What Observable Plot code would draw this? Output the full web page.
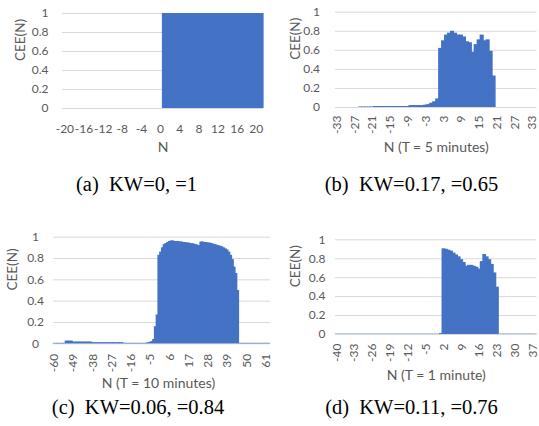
<!DOCTYPE html>
<html><head><meta charset="utf-8">
<script src="https://cdn.jsdelivr.net/npm/d3@7"></script>
<script src="https://cdn.jsdelivr.net/npm/@observablehq/plot@0.6"></script>
<style>
body{margin:0;background:#fff;}
#root{position:relative;width:539px;height:426px;overflow:hidden;background:#fff;}
.panel{position:absolute;}
.panel svg{display:block;}
.cap{position:absolute;font-family:"Liberation Serif","Times New Roman",serif;font-size:20.5px;color:#000;white-space:nowrap;transform:translate(-50%,-50%);line-height:1;}
</style></head><body><div id="root"></div>
<script>
// ---- data ----
const yTicks = [0, 0.2, 0.4, 0.6, 0.8, 1];

// (a) N from -20 to 21
const startA = -20;
const valuesA = [0,0,0,0,0,0,0,0,0,0,0,0,0,0,0,0,0,0,0,0,0,
                 1,1,1,1,1,1,1,1,1,1,1,1,1,1,1,1,1,1,1,1,1];
const ticksA = [-20,-16,-12,-8,-4,0,4,8,12,16,20];

// (b) N from -33 to 34
const startB = -33;
const valuesB = [0,0,0,0,0,0,0,0,
                 0.005,0.005,0.005,0.005,0.005,
                 0.01,0.01,0.01,0.01,0.01,0.01,0.01,0.01,0.01,0.01,0.01,0.01,
                 0.02,0.02,0.02,0.02,0.02,
                 0.025,0.03,0.045,0.06,0.09,
                 0.62,0.70,0.76,0.78,0.80,0.78,0.76,0.76,0.74,0.69,0.68,0.58,0.66,0.71,0.76,0.70,0.71,0.59,0.33,
                 0,0,0,0,0,0,0,0,0,0,0,0,0,0];
const ticksB = [-33,-27,-21,-15,-9,-3,3,9,15,21,27,33];

// (c) N from -60 to 63
const startC = -60;
const valuesC = [0.004,0.004,0.004,0.004,0.004,0.004,0.004,
                 0.025,0.025,0.025,0.025,
                 0.016,0.016,0.016,0.016,0.016,0.016,0.016,0.016,0.016,0.016,0.016,
                 0.01,0.01,0.01,0.01,0.01,0.01,0.01,0.01,0.01,0.01,0.01,0.01,0.01,0.01,0.01,0.01,0.01,0.01,
                 0.004,0.004,0.004,0.004,0.004,0.004,0.004,0.004,0.004,0.004,0.004,0.004,0.004,
                 0.006,0.01,0.015,0.02,0.04,0.16,0.27,
                 0.83,0.86,0.90,0.93,0.94,0.95,0.96,0.965,0.965,0.96,0.96,0.96,0.955,0.955,0.95,0.95,
                 0.945,0.945,0.94,0.94,0.935,0.93,0.925,0.92,0.955,0.955,0.95,0.95,0.945,0.945,0.94,
                 0.935,0.93,0.925,0.92,0.915,0.91,0.90,0.89,0.88,0.86,0.83,0.79,0.72,0.66,0.50,
                 0.004,0.004,0.004,0.004,0.004,0.004,0.004,0.004,0.004,0.004,0.004,0.004,0.004,0.004,0.004,0.004,0.004,0.004];
const ticksC = [-60,-49,-38,-27,-16,-5,6,17,28,39,50,61];

// (d) N from -40 to 38
const startD = -40;
const valuesD = [0.003,0.003,0.003,0.003,0.003,0.003,0.003,0.003,0.003,0.003,
                 0.003,0.003,0.003,0.003,0.003,0.003,0.003,0.003,0.003,0.003,
                 0.003,0.003,0.003,0.003,0.003,0.003,0.003,0.003,0.003,0.003,
                 0.003,0.003,0.003,0.003,0.003,0.003,0.003,0.003,0.003,0.003,0.003,
                 0.01,
                 0.905,0.90,0.89,0.88,0.86,0.84,0.82,0.79,0.76,0.72,0.73,0.73,0.72,0.71,0.69,0.77,0.845,0.82,0.79,0.74,0.65,0.50,
                 0.003,0.003,0.003,0.003,0.003,0.003,0.003,0.003,0.003,0.003,0.003,0.003,0.003,0.003,0.003];
const ticksD = [-40,-33,-26,-19,-12,-5,2,9,16,23,30,37];

const captions = [
  {text: "(a)\u2002KW=0, =1", x: 136.5, y: 184},
  {text: "(b)\u2002KW=0.17, =0.65", x: 411.5, y: 184},
  {text: "(c)\u2002KW=0.06, =0.84", x: 138, y: 406.5},
  {text: "(d)\u2002KW=0.11, =0.76", x: 411.5, y: 406.5}
];

// ---- drawing ----
const FONT = "Lato, 'Open Sans', sans-serif";
const GRAY = "#595959";
const root = document.getElementById("root");

function panel(cfg) {
  const data = cfg.values.map((v, i) => ({n: cfg.start + i, v}));
  const yAxisOpts = {tickSize: 0, tickPadding: cfg.yPad, tickFormat: d => String(d), label: null};
  if (cfg.yAnchor) yAxisOpts.textAnchor = cfg.yAnchor;
  const xAxisOpts = {tickSize: 0, tickPadding: cfg.xPad, label: null};
  if (cfg.rotate) xAxisOpts.tickRotate = cfg.rotate;
  const svg = Plot.plot({
    width: cfg.width, height: cfg.height,
    marginLeft: cfg.ml, marginRight: cfg.mr, marginTop: cfg.mt, marginBottom: cfg.mb,
    style: {fontFamily: FONT, fontSize: "12px", color: GRAY, background: "transparent", overflow: "visible"},
    x: {type: "band", domain: data.map(d => d.n), padding: 0},
    y: {domain: [0, 1]},
    marks: [
      Plot.gridY(yTicks, {stroke: "#d9d9d9", strokeOpacity: 1, strokeWidth: 1}),
      Plot.barY(data, {x: "n", y: "v", fill: "#4472C4", insetLeft: -0.6, insetRight: -0.6}),
      Plot.axisX(cfg.ticks, xAxisOpts),
      Plot.axisY(yTicks, yAxisOpts),
      Plot.text([cfg.yTitle], {text: d => d, frameAnchor: "left", rotate: -90, dx: cfg.yTitleDx, fontSize: 13.5, fill: GRAY}),
      Plot.text([cfg.xTitle], {text: d => d, frameAnchor: "bottom", dy: cfg.xTitleDy, dx: cfg.xTitleDx || 0, fontSize: 14, fill: GRAY, lineAnchor: "middle"})
    ]
  });
  const div = document.createElement("div");
  div.className = "panel";
  div.style.left = cfg.left + "px";
  div.style.top = cfg.top + "px";
  div.appendChild(svg);
  root.appendChild(div);
}

panel({values: valuesA, start: startA, ticks: ticksA, left: 0, top: 0, width: 270, height: 160,
  ml: 62, mr: 7, mt: 13, mb: 52, xPad: 16, yPad: 14, yTitle: "CEE(N)", yTitleDx: -42,
  xTitle: "N", xTitleDy: 39});
panel({values: valuesB, start: startB, ticks: ticksB, left: 270, top: 0, width: 269, height: 160,
  ml: 65, mr: 2.5, mt: 11.7, mb: 53, xPad: 8, rotate: -90, yPad: 15.5, yTitle: "CEE(N)", yTitleDx: -40,
  xTitle: "N (T = 5 minutes)", xTitleDy: 39.7});
panel({values: valuesC, start: startC, ticks: ticksC, left: 0, top: 215, width: 270, height: 180,
  ml: 53, mr: 0, mt: 21.7, mb: 51.7, xPad: 10, rotate: -90, yPad: 18, yAnchor: "middle", yTitle: "CEE(N)", yTitleDx: -41,
  xTitle: "N (T = 10 minutes)", xTitleDy: 39.7, xTitleDx: -3.5});
panel({values: valuesD, start: startD, ticks: ticksD, left: 270, top: 215, width: 269, height: 180,
  ml: 65, mr: 2.5, mt: 24.3, mb: 61, xPad: 9, rotate: -90, yPad: 10, yTitle: "CEE(N)", yTitleDx: -40,
  xTitle: "N (T = 1 minute)", xTitleDy: 41});

for (const c of captions) {
  const el = document.createElement("div");
  el.className = "cap";
  el.textContent = c.text;
  el.style.left = c.x + "px";
  el.style.top = c.y + "px";
  root.appendChild(el);
}
</script></body></html>
